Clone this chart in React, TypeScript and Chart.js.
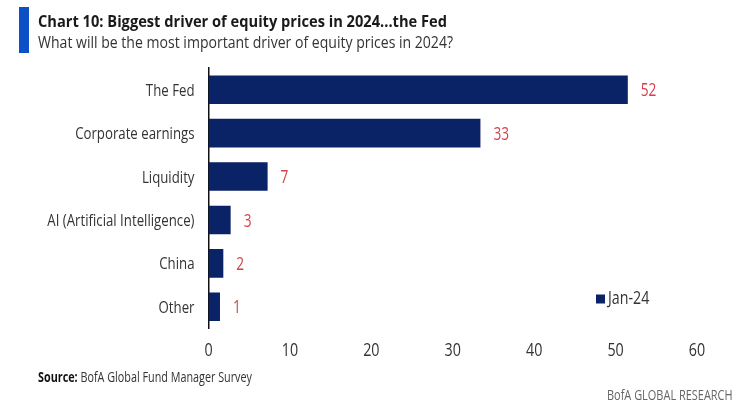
import React, { useEffect, useLayoutEffect, useRef } from "react";
import { Chart, registerables } from "chart.js";

Chart.register(...registerables);

const categories = ["The Fed", "Corporate earnings", "Liquidity", "AI (Artificial Intelligence)", "China", "Other"];
const jan24Values = [51.5, 33.4, 7.26, 2.72, 1.82, 1.41];
const seriesLabel = "Jan-24";
const xTicks = [0, 10, 20, 30, 40, 50, 60];

const NAVY = "#0a2266";
const RED = "#d5404a";
const FONT = "'Open Sans', sans-serif";
const SX = 0.77;

function drawCondensed(ctx: CanvasRenderingContext2D, text: string, x: number, y: number, align: CanvasTextAlign, size: number, color: string) {
  ctx.save();
  ctx.font = `${size}px ${FONT}`;
  ctx.fillStyle = color;
  ctx.textAlign = align;
  ctx.textBaseline = "alphabetic";
  ctx.translate(x, y);
  ctx.scale(SX, 1);
  ctx.fillText(text, 0, 0);
  ctx.restore();
}

function Fit({ width, style, children }: { width: number; style: React.CSSProperties; children: React.ReactNode }) {
  const ref = useRef<HTMLSpanElement>(null);
  useLayoutEffect(() => {
    const el = ref.current;
    if (!el) return;
    el.style.transform = "none";
    const w = el.getBoundingClientRect().width;
    if (w > 0) el.style.transform = `scaleX(${width / w})`;
  });
  return (
    <span
      ref={ref}
      style={{ position: "absolute", display: "inline-block", whiteSpace: "nowrap", transformOrigin: "0 0", lineHeight: 1, ...style }}
    >
      {children}
    </span>
  );
}

export default function App() {
  const canvasRef = useRef<HTMLCanvasElement>(null);

  useEffect(() => {
    const canvas = canvasRef.current;
    if (!canvas) return;

    const axisLabels = {
      id: "axisLabels",
      afterDraw(chart: any) {
        const ctx = chart.ctx;
        const yScale = chart.scales.y;
        const xScale = chart.scales.x;
        const area = chart.chartArea;
        (chart.data.labels as string[]).forEach((lab, i) => {
          const y = yScale.getPixelForTick(i);
          drawCondensed(ctx, lab, area.left - 14, y + 6, "right", 17.2, "#333");
        });
        xScale.ticks.forEach((t: any) => {
          const x = xScale.getPixelForValue(t.value);
          drawCondensed(ctx, String(t.value), x, area.bottom + 27.5, "center", 18.6, "#333");
        });
      },
    };

    const valueLabels = {
      id: "valueLabels",
      afterDatasetsDraw(chart: any) {
        const ctx = chart.ctx;
        const meta = chart.getDatasetMeta(0);
        const data = chart.data.datasets[0].data as number[];
        meta.data.forEach((bar: any, i: number) => {
          drawCondensed(ctx, String(Math.round(data[i])), bar.x + 13, bar.y + 6.6, "left", 17.8, RED);
        });
      },
    };

    const legendPlugin = {
      id: "insideLegend",
      afterDraw(chart: any) {
        const ctx = chart.ctx;
        const area = chart.chartArea;
        const x = area.right - 101;
        const y = area.bottom - 29.5;
        ctx.save();
        ctx.fillStyle = chart.data.datasets[0].backgroundColor;
        ctx.fillRect(x, y - 4.5, 9, 9);
        ctx.restore();
        drawCondensed(ctx, chart.data.datasets[0].label, x + 12, y + 5, "left", 18.5, "#333");
      },
    };

    const chart = new Chart(canvas, {
      type: "bar",
      data: {
        labels: categories,
        datasets: [
          {
            label: seriesLabel,
            data: jan24Values,
            backgroundColor: NAVY,
            borderWidth: 0,
            categoryPercentage: 1,
            barPercentage: 0.66,
          },
        ],
      },
      options: {
        indexAxis: "y",
        responsive: false,
        animation: false,
        layout: { padding: { top: 68, right: 43, left: 0, bottom: 0 } },
        plugins: { legend: { display: false }, tooltip: { enabled: false } },
        scales: {
          x: {
            min: xTicks[0],
            max: xTicks[xTicks.length - 1],
            afterBuildTicks: (scale: any) => {
              scale.ticks = xTicks.map((v) => ({ value: v }));
            },
            afterFit: (scale: any) => {
              scale.height = 85.5;
            },
            grid: { display: false, drawTicks: false },
            border: { display: false },
            ticks: { display: false },
          },
          y: {
            afterFit: (scale: any) => {
              scale.width = 208.5;
            },
            grid: { display: false, drawTicks: false },
            border: { display: true, color: "#111", width: 1.5 },
            ticks: { display: false },
          },
        },
      },
      plugins: [valueLabels, axisLabels, legendPlugin],
    });

    return () => chart.destroy();
  }, []);

  return (
    <div style={{ position: "absolute", left: 0, top: 0, width: 740, height: 414, background: "#fff", overflow: "hidden" }}>
      <canvas ref={canvasRef} width={740} height={414} style={{ position: "absolute", left: 0, top: 0, width: 740, height: 414 }} />
      <div style={{ position: "absolute", left: 19, top: 7, width: 9.5, height: 46, background: "#0c50c8" }} />
      <Fit width={409} style={{ left: 38, top: 13.1, fontFamily: FONT, fontWeight: 700, fontSize: 16.4, color: "#1a1a1a" }}>
        Chart 10: Biggest driver of equity prices in 2024...the Fed
      </Fit>
      <Fit width={415} style={{ left: 38, top: 34.1, fontFamily: FONT, fontWeight: 400, fontSize: 16.4, color: "#333" }}>
        What will be the most important driver of equity prices in 2024?
      </Fit>
      <Fit width={214} style={{ left: 38.3, top: 369.6, fontFamily: FONT, fontSize: 14, color: "#333" }}>
        <b style={{ color: "#111" }}>Source:</b> BofA Global Fund Manager Survey
      </Fit>
      <Fit width={125.6} style={{ left: 606.7, top: 388.3, fontFamily: FONT, fontSize: 14, color: "#666" }}>
        BofA GLOBAL RESEARCH
      </Fit>
    </div>
  );
}
